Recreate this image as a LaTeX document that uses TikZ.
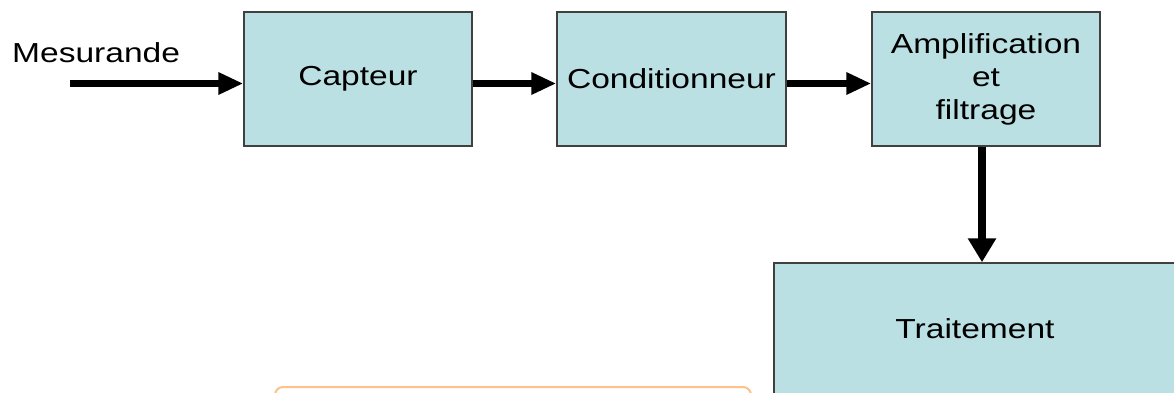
\documentclass[tikz,border=0pt]{standalone}
\usepackage{fontspec}
\setmainfont{Liberation Sans}[FakeStretch=1.22]
\usetikzlibrary{arrows.meta}
\definecolor{boxfill}{HTML}{BBE0E3}
\definecolor{boxline}{HTML}{404040}
\definecolor{orangeline}{HTML}{FFC18C}
\begin{document}
\begin{tikzpicture}[x=1pt,y=-1pt,
  block/.style={draw=boxline, fill=boxfill, line width=1.5pt, inner sep=0pt,
    minimum width=228pt, minimum height=134pt, align=center,
    font=\fontsize{27.5}{33}\selectfont},
  flow/.style={line width=7pt, -{Triangle[length=25pt,width=21pt]}},
  label/.style={font=\fontsize{27.5}{33}\selectfont, inner sep=0pt}]
\useasboundingbox (0,0) rectangle (1174,392);
\fill[white] (0,0) rectangle (1174,392);
\clip (0,0) rectangle (1174,392);

\node[label, anchor=base west] (mes) at (12,62) {Mesurande};
\node[block] (cap) at (358,79) {Capteur};
\node[block, minimum width=229pt] (cond) at (671.5,79) {Conditionneur};
\node[block] (amp) at (986,79) {Amplification\\et\\filtrage};
\node[block, minimum width=402pt, minimum height=132pt] (trait) at (975,329) {Traitement};
\node[draw=orangeline, fill=white, line width=2pt, rounded corners=8pt,
  minimum width=476pt, minimum height=60pt, inner sep=0pt] (note) at (513,417) {};

\coordinate (in) at (70,83.5);
\draw[flow] (in) -- (cap.west |- in);
\draw[flow] (cap.east |- in) -- (cond.west |- in);
\draw[flow] (cond.east |- in) -- (amp.west |- in);
\coordinate (dn) at ([xshift=-4pt]amp.south);
\draw[line width=8.5pt, -{Triangle[length=24pt,width=27pt]}] (dn) -- (dn |- trait.north);
\end{tikzpicture}
\end{document}
